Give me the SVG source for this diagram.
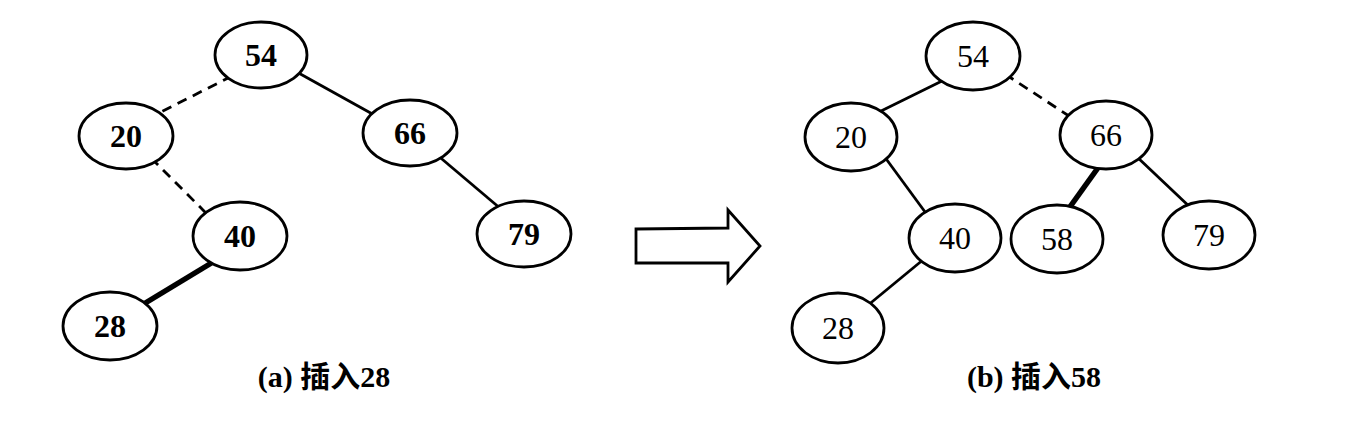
<svg xmlns="http://www.w3.org/2000/svg" width="1345" height="424" viewBox="0 0 1345 424">
<style>
.n ellipse{fill:#fff;stroke:#000;stroke-width:2.8}
.n text{font-family:"Liberation Serif","Times New Roman",serif;font-size:32px;text-anchor:middle;fill:#000}
.a text{font-weight:bold}
.e line{stroke:#000;stroke-width:2.8;fill:none}
.e .d{stroke-dasharray:10 7}
.e .t{stroke-width:5.5}
.cap{font-family:"Liberation Serif","Noto Sans CJK SC",serif;font-size:30px;font-weight:bold;text-anchor:middle;fill:#000}
</style>
<rect width="1345" height="424" fill="#fff"/>
<g id="connectors" class="e">
<line class="d" x1="232" y1="76" x2="155" y2="115"/>
<line x1="295" y1="71" x2="376" y2="116"/>
<line class="d" x1="151" y1="158" x2="209" y2="216"/>
<line x1="436" y1="154" x2="501" y2="209"/>
<line class="t" x1="218" y1="259" x2="142" y2="305"/>
<line x1="946" y1="79" x2="877" y2="113"/>
<line class="d" x1="1005" y1="74" x2="1069" y2="116"/>
<line x1="884" y1="156" x2="928" y2="216"/>
<line x1="924" y1="259" x2="867" y2="306"/>
<line class="t" x1="1100" y1="165" x2="1067" y2="211"/>
<line x1="1136" y1="156" x2="1192" y2="209"/>
</g>
<g id="tree-a" class="n a">
<g id="a54"><ellipse cx="261" cy="55" rx="46" ry="33"/><text x="261" y="66">54</text></g>
<g id="a20"><ellipse cx="126" cy="136" rx="47" ry="33"/><text x="126" y="147">20</text></g>
<g id="a66"><ellipse cx="410" cy="133" rx="47" ry="33"/><text x="410" y="144">66</text></g>
<g id="a40"><ellipse cx="240" cy="236" rx="47" ry="34"/><text x="240" y="247">40</text></g>
<g id="a79"><ellipse cx="524" cy="234" rx="47" ry="33"/><text x="524" y="245">79</text></g>
<g id="a28"><ellipse cx="110" cy="326" rx="47" ry="34"/><text x="110" y="337">28</text></g>
</g>
<g id="tree-b" class="n">
<g id="b54"><ellipse cx="973" cy="56" rx="47" ry="34"/><text x="973" y="67">54</text></g>
<g id="b20"><ellipse cx="851" cy="137" rx="46" ry="34"/><text x="851" y="148">20</text></g>
<g id="b66"><ellipse cx="1106" cy="135" rx="46" ry="34"/><text x="1106" y="146">66</text></g>
<g id="b40"><ellipse cx="955" cy="238" rx="46" ry="34"/><text x="955" y="249">40</text></g>
<g id="b58"><ellipse cx="1057" cy="239" rx="46" ry="34"/><text x="1057" y="250">58</text></g>
<g id="b79"><ellipse cx="1209" cy="235" rx="46" ry="34"/><text x="1209" y="246">79</text></g>
<g id="b28"><ellipse cx="838" cy="328" rx="46" ry="35"/><text x="838" y="339">28</text></g>
</g>
<g id="arrow">
<polygon points="636,229 728,228 728,210 760,246 728,282 728,263 636,263" fill="#fff" stroke="#000" stroke-width="2.8" stroke-linejoin="miter"/>
</g>
<g id="captions">
<text class="cap" x="324" y="387">(a) 插入28</text>
<text class="cap" x="1034" y="387">(b) 插入58</text>
</g>
</svg>
